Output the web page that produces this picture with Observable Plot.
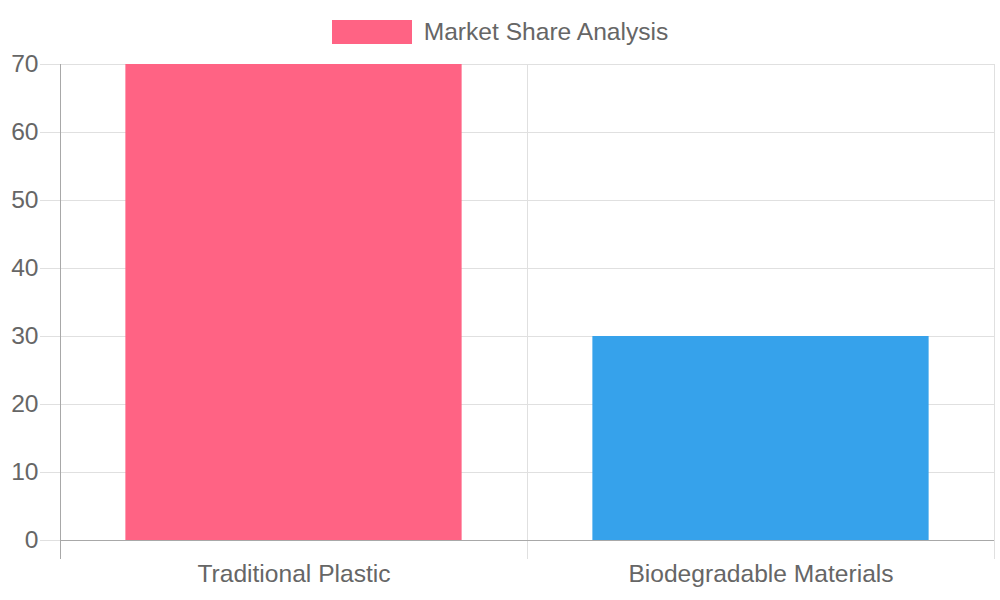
<!DOCTYPE html>
<html>
<head>
<meta charset="utf-8">
<script src="https://cdn.jsdelivr.net/npm/d3@7"></script>
<script src="https://cdn.jsdelivr.net/npm/@observablehq/plot@0.6"></script>
<style>
  body { margin: 0; background: #fff; font-family: "Liberation Sans", Arial, sans-serif; }
  #wrap { width: 1000px; height: 600px; }
  #legend { height: 40px; display: flex; justify-content: center; align-items: flex-start; }
  #legend .item { display: flex; align-items: center; margin-top: 20px; }
  #legend .sw { width: 80px; height: 24px; background: #FF6384; margin-right: 12px; }
  #legend .lab { font-size: 24.6px; color: #666; line-height: 24px; }
  svg { display: block; }
</style>
</head>
<body>
<div id="wrap">
  <div id="legend"><div class="item"><div class="sw"></div><div class="lab">Market Share Analysis</div></div></div>
  <div id="chart"></div>
</div>
<script>
const categories = ["Traditional Plastic", "Biodegradable Materials"];
const values = [70, 30];
const colors = ["#FF6384", "#36A2EB"];
const yTicks = [0, 10, 20, 30, 40, 50, 60, 70];

const data = categories.map((c, i) => ({category: c, i, value: values[i], color: colors[i]}));
const grid = "#e0e0e0";
const axisCol = "#a8a8a8";

const chart = Plot.plot({
  width: 1000,
  height: 560,
  marginTop: 24,
  marginBottom: 60,
  marginLeft: 60,
  marginRight: 6,
  style: {fontFamily: "Liberation Sans, Arial, sans-serif", fontSize: "24.6px", color: "#666", background: "transparent", overflow: "visible"},
  x: {domain: [0, categories.length], axis: null},
  y: {domain: [0, 70], axis: null},
  marks: [
    Plot.gridY(yTicks, {stroke: grid, strokeOpacity: 1}),
    Plot.gridX(d3.range(1, categories.length + 1), {stroke: grid, strokeOpacity: 1}),
    Plot.axisY(yTicks, {tickSize: 20, tickPadding: 2, stroke: grid, strokeOpacity: 1, fill: "#666", label: null}),
    Plot.axisX(d3.range(1, categories.length + 1), {tickSize: 19, stroke: grid, strokeOpacity: 1, tickFormat: () => "", label: null}),
    Plot.rectY(data, {x1: d => d.i + 0.14, x2: d => d.i + 0.86, y: "value", fill: "color"}),
    Plot.ruleY([0], {stroke: axisCol}),
    Plot.ruleX([0], {stroke: axisCol}),
    Plot.axisX([0], {tickSize: 19, stroke: axisCol, strokeOpacity: 1, tickFormat: () => "", label: null}),
    Plot.axisX(data.map(d => d.i + 0.5), {tickSize: 0, tickPadding: 24, fill: "#666", label: null, tickFormat: v => categories[Math.floor(v)]})
  ]
});
document.getElementById("chart").appendChild(chart);
</script>
</body>
</html>
